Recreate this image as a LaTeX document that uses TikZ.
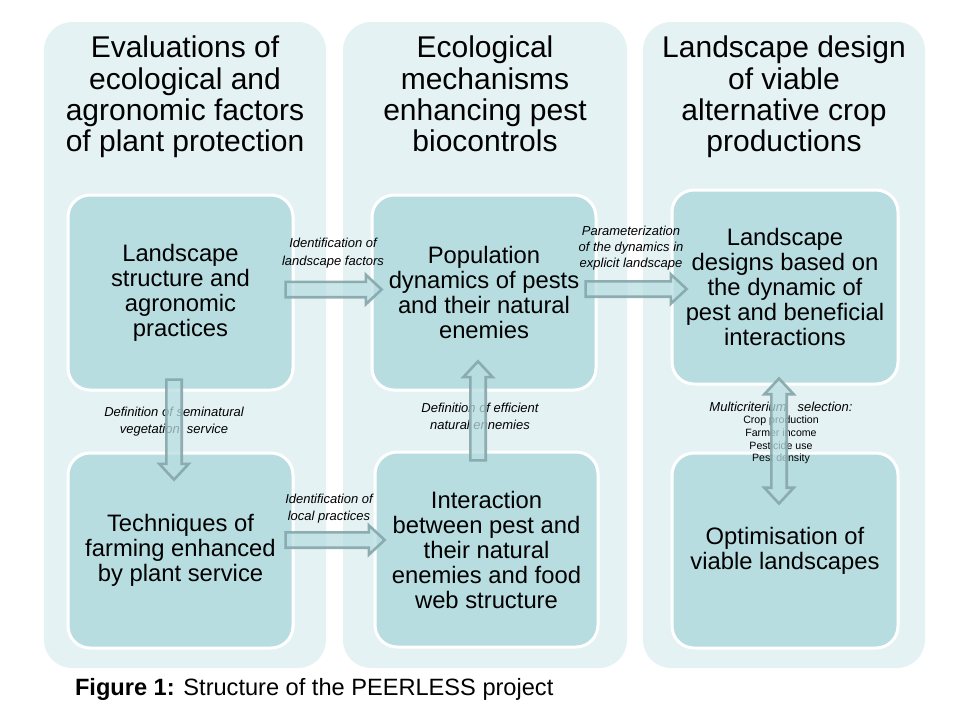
\documentclass[tikz,border=0pt]{standalone}
\usepackage{fontspec}
\setmainfont{Liberation Sans}
\usetikzlibrary{calc}
\usetikzlibrary{shapes.arrows}
\definecolor{colbg}{HTML}{E5F2F4}
\definecolor{boxbg}{HTML}{B8DDE1}
\definecolor{arrowline}{HTML}{86A6AA}
\newcommand{\blockarrow}[3][]{\path let \p1=(#2), \p2=(#3), \n1={veclen(\x2-\x1,\y2-\y1)} in (\p1) -- (\p2) node[midway, sloped, allow upside down, arrowbox, minimum height=\n1, #1] {};}
\begin{document}
\begin{tikzpicture}[x=0.5pt, y=-0.5pt,
    column/.style={fill=colbg, rounded corners=14pt, minimum width=#1*0.5pt, minimum height=323pt, inner sep=0pt},
    panel/.style={fill=boxbg, draw=white, line width=1.5pt, rounded corners=11pt, minimum width=112.5pt, minimum height=97.5pt, inner sep=0pt, align=center, font=\fontsize{11.9}{12.5}\selectfont},
    heading/.style={align=center, font=\fontsize{15}{15.6}\selectfont},
    linklabel/.style={align=center, font=\fontsize{6.5}{9}\selectfont\itshape},
    arrowbox/.style={single arrow, draw=arrowline, fill=boxbg, fill opacity=0.75, draw opacity=0.9, line width=1.3pt, inner xsep=0pt, inner ysep=3.2pt, minimum width=13.5pt, single arrow head extend=3.5pt, single arrow tip angle=86},
    botharrow/.style={double arrow, double arrow head extend=3.5pt, double arrow tip angle=86}]
\useasboundingbox (0,0) rectangle (960,720);
\node[column=282] (col1) at (185,345) {};
\node[column=284] (col2) at (485,345) {};
\node[column=282] (col3) at (784,345) {};
\node[heading] (t1) at (185,97) {Evaluations of\\ecological and\\agronomic factors\\of plant protection};
\node[heading] (t2) at (485,94) {Ecological\\mechanisms\\enhancing pest\\biocontrols};
\node[heading] (t3) at (784,97) {Landscape design\\of viable\\alternative crop\\productions};
\node[panel] (a1) at (180.5,292.5) {Landscape\\structure and\\agronomic\\practices};
\node[panel] (a2) at (180.5,550.5) {Techniques of\\farming enhanced\\by plant service};
\node[panel, minimum width=112pt] (b1) at (484,292.5) {Population\\dynamics of pests\\and their natural\\enemies};
\node[panel, minimum width=111.5pt] (b2) at (486.5,549.5) {Interaction\\between pest and\\their natural\\enemies and food\\web structure};
\node[panel, minimum width=113pt, minimum height=97pt] (c1) at (785,287) {Landscape\\designs based on\\the dynamic of\\pest and beneficial\\interactions};
\node[panel, minimum width=113pt] (c2) at (785,550.5) {Optimisation of\\viable landscapes};
\node[linklabel] (l1) at (333,253) {Identification of\\landscape factors};
\node[linklabel, font=\fontsize{6.5}{8}\selectfont\itshape] (l2) at (631,248) {Parameterization\\of the dynamics in\\explicit landscape};
\node[linklabel, font=\fontsize{6.5}{8.5}\selectfont\itshape] (l3) at (174,422) {Definition of seminatural\\vegetation\ \ service};
\node[linklabel, font=\fontsize{6.5}{8.5}\selectfont\itshape] (l4) at (329,509) {Identification of\\local practices};
\node[linklabel, font=\fontsize{6.5}{8.5}\selectfont\itshape] (l5) at (480,416) {Definition of efficient\\natural\ ennemies};
\node[linklabel] (l6) at (781,407) {Multicriterium\ \ \ selection:};
\node[align=center, font=\fontsize{5.3}{6.3}\selectfont] (crit) at (781,440) {Crop production\\Farmer income\\Pesticide use\\Pest density};
\blockarrow{$(a1.east)+(-13,-3)$}{$(b1.west)+(7,-3)$}
\blockarrow{$(b1.east)+(-16,-3.5)$}{$(c1.west)+(12,2)$}
\blockarrow{$(a2.east)+(-13,-10.5)$}{$(b2.west)+(7,-9.5)$}
\blockarrow{$(a1.south)+(-6.5,-16)$}{$(a2.north)+(-6.5,24)$}
\blockarrow{$(b2.north)+(-8.5,14)$}{$(b1.south)+(-6,-26)$}
\blockarrow[botharrow]{$(c1.south)+(-6,-7)$}{$(c2.north)+(-6,52)$}
\node[anchor=west, font=\fontsize{11.8}{14}\selectfont] (cap) at (68,689) {\textbf{Figure 1:} Structure of the PEERLESS project};
\end{tikzpicture}
\end{document}
